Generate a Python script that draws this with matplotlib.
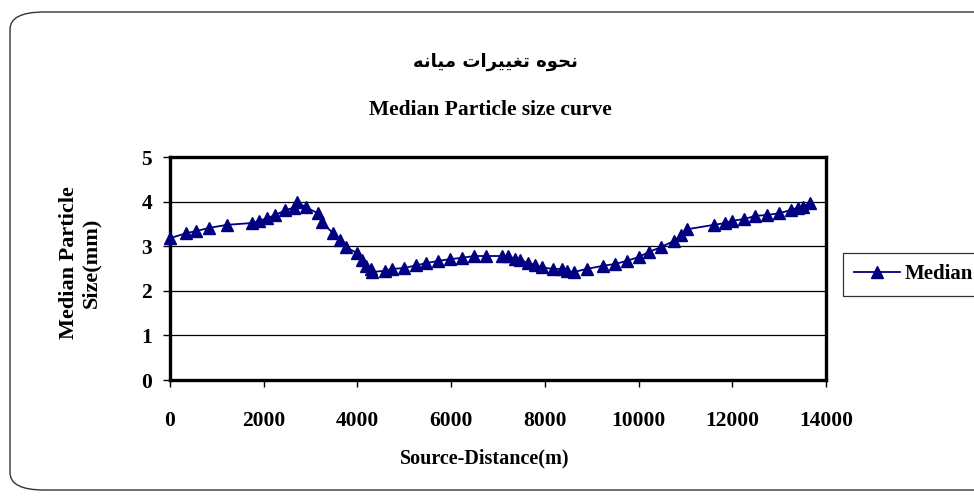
import matplotlib.pyplot as plt
from matplotlib.patches import FancyBboxPatch

# source distance (m) and median particle size (mm)
distance = [0, 343, 557, 836, 1221, 1757, 1907, 2079, 2250, 2464,
            2636, 2721, 2893, 3150, 3236, 3471, 3621, 3750, 3986, 4093,
            4179, 4286, 4307, 4586, 4736, 4993, 5250, 5464, 5721, 5979,
            6236, 6493, 6750, 7093, 7221, 7371, 7479, 7650, 7800, 7929,
            8164, 8357, 8464, 8614, 8893, 9236, 9493, 9750, 10007, 10221,
            10479, 10757, 10907, 11036, 11614, 11850, 12000, 12257, 12493, 12750,
            13007, 13243, 13393, 13500, 13650]
median = [3.18, 3.29, 3.34, 3.41, 3.48, 3.52, 3.57, 3.63, 3.70, 3.81,
          3.86, 3.98, 3.88, 3.74, 3.54, 3.30, 3.14, 2.98, 2.85, 2.69,
          2.56, 2.49, 2.42, 2.45, 2.49, 2.51, 2.57, 2.62, 2.67, 2.71,
          2.74, 2.78, 2.78, 2.78, 2.78, 2.71, 2.69, 2.62, 2.58, 2.53,
          2.49, 2.49, 2.44, 2.42, 2.49, 2.56, 2.60, 2.67, 2.76, 2.87,
          2.98, 3.12, 3.25, 3.38, 3.48, 3.52, 3.57, 3.61, 3.68, 3.70,
          3.74, 3.81, 3.86, 3.88, 3.97]
xticks = [0, 2000, 4000, 6000, 8000, 10000, 12000, 14000]
yticks = [0, 1, 2, 3, 4, 5]

title_fa = "نحوه تغییرات میانه"
title_en = "Median Particle size curve"

# matplotlib does no arabic shaping, so pick the presentation forms by hand
FORMS = {
    'ن': ('\ufee5', '\ufee6', '\ufee7', '\ufee8'),
    'ح': ('\ufea1', '\ufea2', '\ufea3', '\ufea4'),
    'و': ('\ufeed', '\ufeee', None, None),
    'ه': ('\ufee9', '\ufeea', '\ufeeb', '\ufeec'),
    'ت': ('\ufe95', '\ufe96', '\ufe97', '\ufe98'),
    'غ': ('\ufecd', '\ufece', '\ufecf', '\ufed0'),
    'ی': ('\ufbfc', '\ufbfd', '\ufbfe', '\ufbff'),
    'ر': ('\ufead', '\ufeae', None, None),
    'ا': ('\ufe8d', '\ufe8e', None, None),
    'م': ('\ufee1', '\ufee2', '\ufee3', '\ufee4'),
}


def shape(text):
    out = []
    for i, ch in enumerate(text):
        if ch not in FORMS:
            out.append(ch)
            continue
        prev = text[i - 1] if i > 0 else ''
        nxt = text[i + 1] if i + 1 < len(text) else ''
        join_prev = prev in FORMS and FORMS[prev][2] is not None
        join_next = nxt in FORMS and FORMS[ch][2] is not None
        iso, fin, ini, med = FORMS[ch]
        if join_prev and join_next:
            out.append(med)
        elif join_prev:
            out.append(fin)
        elif join_next:
            out.append(ini)
        else:
            out.append(iso)
    return ''.join(reversed(out))


plt.rcParams['font.family'] = ['Liberation Serif', 'DejaVu Serif']
plt.rcParams['font.weight'] = 'bold'

fig = plt.figure(figsize=(9.74, 4.98), dpi=100)

# rounded chart-area frame, running off the right edge
frame = FancyBboxPatch((10 / 974, 8 / 498), 1.2, 478 / 498,
                       boxstyle="round,pad=0,rounding_size=0.035",
                       transform=fig.transFigure, facecolor='none',
                       edgecolor='#333333', linewidth=1.0, zorder=-1)
fig.patches.append(frame)

ax = fig.add_axes([170 / 974, 1 - 380 / 498, 656 / 974, 223 / 498])
ax.plot(distance, median, color='#000080', linewidth=1.3, marker='^',
        markersize=9, markeredgecolor='#000080', markerfacecolor='#000080',
        label='Median', clip_on=False, zorder=3)

ax.set_xlim(0, 14000)
ax.set_ylim(0, 5)
ax.set_xticks(xticks)
ax.set_yticks(yticks)
ax.set_xticklabels([str(t) for t in xticks])
ax.set_yticklabels([str(t) for t in yticks])
ax.tick_params(axis='both', labelsize=15.5, direction='out', length=5, width=1)
ax.tick_params(axis='x', pad=17)
ax.tick_params(axis='y', pad=8)
ax.grid(axis='y', color='black', linewidth=0.9)
ax.set_axisbelow(True)
for sp in ax.spines.values():
    sp.set_linewidth(2.4)
    sp.set_color('black')

ax.set_xlabel("Source-Distance(m)", fontsize=14.5, fontweight='bold')
ax.xaxis.label.set_va('center')
ax.xaxis.set_label_coords(0.479, -0.354)
ax.set_ylabel("Median Particle\nSize(mm)", fontsize=16, fontweight='bold',
              linespacing=1.15)
ax.yaxis.label.set_va('center')
ax.yaxis.set_label_coords(-0.137, 0.525)

fig.text(0.509, 1 - 62 / 498, shape(title_fa), ha='center', va='center',
         fontsize=13, fontweight='bold', family=['DejaVu Sans'])
fig.text(0.503, 1 - 110 / 498, title_en, ha='center', va='center',
         fontsize=15.5, fontweight='bold')

# legend box runs off the right edge, as in the original
leg = ax.legend(loc='upper left', bbox_to_anchor=(843 / 974, 1 - 253 / 498),
                bbox_transform=fig.transFigure, fontsize=15, frameon=True,
                fancybox=False, borderaxespad=0, handlelength=2.2,
                borderpad=0.55, handletextpad=0.2)
leg.get_frame().set_edgecolor('black')
leg.get_frame().set_linewidth(0.9)

fig.savefig('out.png', dpi=100)
